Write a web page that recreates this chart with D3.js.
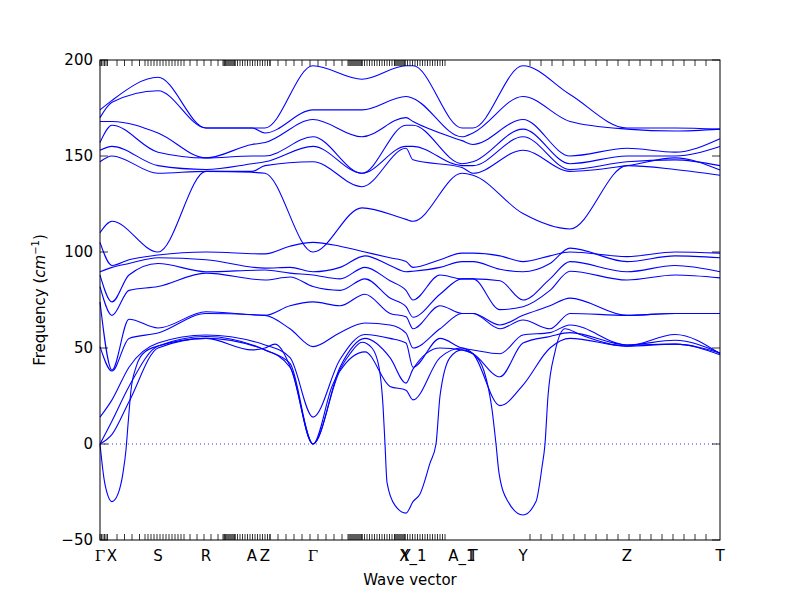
<!DOCTYPE html>
<html><head><meta charset="utf-8">
<script src="https://cdn.jsdelivr.net/npm/d3@7"></script>
<style>body{margin:0;background:#fff}</style></head>
<body><svg id="c" width="800" height="600"></svg>
<script>
// path coordinate k (0..620), frequencies in cm^-1
const labelPos = [0, 12, 58, 106, 152, 165, 213, 306, 313, 362, 373, 423, 527, 620];
const labelTxt = ["Γ","X","S","R","A","Z","Γ","Y","X_1","A_1","T","Y","Z","T"];
const yTicks = [-50, 0, 50, 100, 150, 200];
const kNodes = [0,12,58,106,152,165,213,262,306,313,362,373,423,470,527,575,620];
const upper = [
 [174,179,191,164.6,164.6,164.6,197,190,197,197,164.6,164.6,197,182,164.6,164.6,164],
 [170,178,184,164.6,164.6,162,174,174,181,180,160,162,181,168,164,163,164],
 [168,168,162,149,156,157,169,160,170,168,158,156,169,150,154,152,159],
 [157,166,152,149,150,150,160,141,166,166,146,147,164,146,150,150,155],
 [153,155,145,143,146,147,155,141,155,155,145,145,160,143,147,148,145],
 [147,150,141,142,142,145,147,134,154,148,144,141,153,142,145,149,142.7],
 [110,116,100,142,141.5,141,100,123,117,116,141,140,120,112,145,143,140]
];
const lowNodes = [0,12,29,58,106,165,190,213,240,265,290,306,313,340,362,373,400,423,450,470,527,575,620];
const lower = [
 [105,93,96,98.4,100,99,103,105,103,100,97,95,92,96,99.4,99.4,98,95,98,100,97.6,100,99.4],
 [89.7,92,94,97,96,91.6,92,89.7,92,98,93,89.7,90,92,95,95,91,89.7,94,102,95,98,97],
 [88,74,88,94,89.7,90.6,89,88,86,92,85,80,75,88,86,86,85,75,86,95,89.7,93,89.7],
 [82,67,80,82,89,85.4,87,82,80,86,76,71.5,66,78,86,86,70,71.5,80,90,85.4,88,86.5],
 [74,38.5,65,60.4,68.9,67,72,74,72,78,68,66.3,60,72,68,68,62,67,72,76,67,68,68],
 [50.7,38,55,57.8,68,67,60,50.7,58,63,62,57.8,50,60,68,68,60,64.6,60,68,67,68,68],
 [14,23,40,52.6,56.8,51.6,45,14,44,57,55,52.6,40,55,50,49,47,56.8,58,62,51.6,54,47.4],
 [0,12,30,51,56,49,42,0,40,55,45,31.7,39,50,49,47,35,52.6,56,58,51.6,52,47.4],
 [0,5,22,50,55,49,40,0,38,48,30,28,23,45,50,47,20,30.7,50,55,51,52,46.5]
];
const neg = [[0,0],[4,-18],[8,-27],[12,-30],[18,-26],[23,-15],[26,-3],[28,10],[31,28],[36,40],[45,48],[58,51],[106,55],[152,49],[165,50],[175,52],[192,38],[213,0],[232,30],[250,47],[262,53],[272,50],[279,40],[283,20],[285,0],[287,-20],[295,-32],[306,-36],[313,-30],[320,-26],[330,-10],[336,0],[340,25],[350,45],[362,49],[373,47],[384,38],[392,18],[396,0],[399,-15],[408,-30],[423,-37],[436,-30],[442,-12],[445,0],[448,25],[455,48],[465,60],[480,57],[527,51],[575,57],[620,47]];

const svg = d3.select("#c");
const m = {l:100, r:720, t:60, b:540};
const x = d3.scaleLinear().domain([0,620]).range([m.l,m.r]);
const y = d3.scaleLinear().domain([-50,200]).range([m.b,m.t]);
const line = d3.line().x(d=>x(d[0])).y(d=>y(d[1])).curve(d3.curveMonotoneX);
const series = [];
upper.forEach(b=>series.push(kNodes.map((k,i)=>[k,b[i]])));
lower.forEach(b=>series.push(lowNodes.map((k,i)=>[k,b[i]])));
series.push(neg);
svg.append("line").attr("x1",x(0)).attr("x2",x(620)).attr("y1",y(0)).attr("y2",y(0))
  .attr("stroke","#0000ff").attr("stroke-dasharray","1,3").attr("stroke-width",0.8);
svg.append("g").selectAll("path").data(series).join("path").attr("d",line)
  .attr("fill","none").attr("stroke","#0000ff").attr("stroke-width",1.1);
// minor q-point ticks
const segs = [[0,8,1.5],[17,40,7.5],[45,85,3],[90,125,7],[123,135,1],[135,170,2.5],[170,245,8],[248,262,1],[262,295,2.5],[295,305,1],[305,345,2.5],[430,615,11]];
let mt = [];
segs.forEach(s=>{for(let v=s[0]; v<=s[1]; v+=s[2]) mt.push(v);});
const tg = svg.append("g").attr("stroke","#000").attr("stroke-width",0.8);
mt.forEach(v=>{
  tg.append("line").attr("x1",x(v)).attr("x2",x(v)).attr("y1",m.b).attr("y2",m.b-6);
  tg.append("line").attr("x1",x(v)).attr("x2",x(v)).attr("y1",m.t).attr("y2",m.t+6);
});
const f = "DejaVu Sans";
labelPos.forEach((p,i)=>{
  svg.append("text").attr("x",x(p)).attr("y",561).attr("text-anchor","middle")
    .attr("font-family",labelTxt[i]==="Γ"?"DejaVu Serif":f).attr("font-size",15).text(labelTxt[i]);
});
yTicks.forEach(v=>{
  tg.append("line").attr("x1",m.l).attr("x2",m.l+8).attr("y1",y(v)).attr("y2",y(v));
  tg.append("line").attr("x1",m.r).attr("x2",m.r-8).attr("y1",y(v)).attr("y2",y(v));
  svg.append("text").attr("x",m.l-7).attr("y",y(v)+5).attr("text-anchor","end")
    .attr("font-family",f).attr("font-size",15).text(v<0?"−"+(-v):v);
});
svg.append("rect").attr("x",m.l).attr("y",m.t).attr("width",m.r-m.l).attr("height",m.b-m.t)
  .attr("fill","none").attr("stroke","#000").attr("stroke-width",1);
svg.append("text").attr("x",410).attr("y",585).attr("text-anchor","middle")
  .attr("font-family",f).attr("font-size",15).text("Wave vector");
const yl = svg.append("text").attr("transform","translate(45,300) rotate(-90)")
  .attr("text-anchor","middle").attr("font-family",f).attr("font-size",15);
yl.append("tspan").text("Frequency (");
yl.append("tspan").attr("font-style","italic").text("cm");
yl.append("tspan").attr("font-size",10).attr("dy",-6).text("−1");
yl.append("tspan").attr("dy",6).text(")");
</script></body></html>
